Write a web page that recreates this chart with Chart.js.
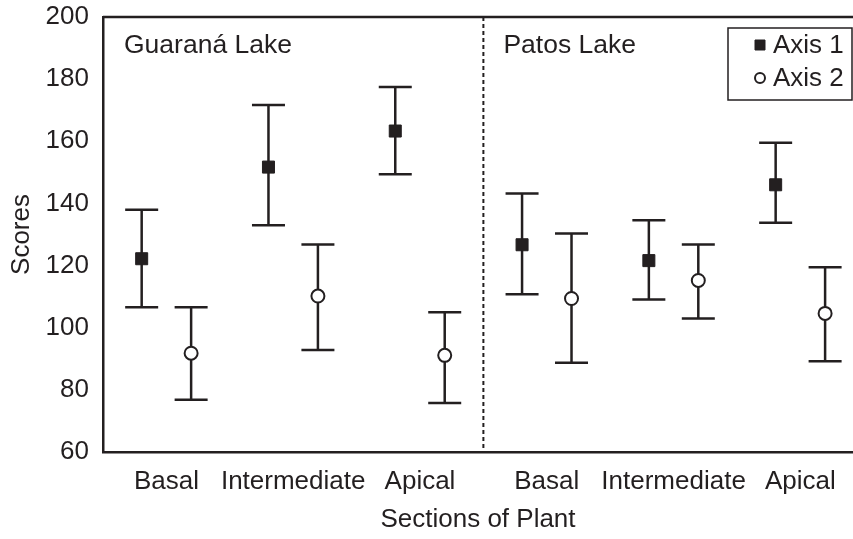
<!DOCTYPE html>
<html>
<head>
<meta charset="utf-8">
<script src="https://cdn.jsdelivr.net/npm/chart.js@4/dist/chart.umd.min.js"></script>
<style>
  html, body { margin: 0; padding: 0; background: #fff; overflow: hidden; }
  canvas { display: block; }
</style>
</head>
<body>
<canvas id="canvas-scores" width="853" height="539"></canvas>
<script>
// sections along the x axis, two lakes of three sections each
const sections = ['Basal', 'Intermediate', 'Apical', 'Basal', 'Intermediate', 'Apical'];
const lakes = ['Guaraná Lake', 'Patos Lake'];
const yTicks = [60, 80, 100, 120, 140, 160, 180, 200];

// Axis 1 scores (mean and error bar ends)
const axis1Mean = [122.2, 151.7, 163.3, 126.7, 121.6, 146.0];
const axis1Low  = [106.6, 133.0, 149.4, 110.8, 109.1, 133.8];
const axis1High = [138.0, 171.7, 177.5, 143.2, 134.6, 159.5];

// Axis 2 scores
const axis2Mean = [91.8, 110.2, 91.1, 109.4, 115.2, 104.6];
const axis2Low  = [76.8, 92.8, 75.8, 88.7, 103.0, 89.2];
const axis2High = [106.6, 126.8, 105.0, 130.3, 126.8, 119.5];

const ink = '#231f20';
const fontFam = '"Liberation Sans", Arial, sans-serif';
const shift = 0.195;

const points = (means, lows, highs, dx) =>
  means.map((m, i) => ({ x: i + dx, y: m, lo: lows[i], hi: highs[i] }));

// error bars, frame line, divider, lake names and legend
const decor = {
  id: 'decor',
  beforeDatasetsDraw(chart) {
    const { ctx, chartArea, scales } = chart;
    const xs = scales.x, ys = scales.y;
    ctx.save();
    ctx.strokeStyle = ink;
    ctx.lineWidth = 2.5;
    chart.data.datasets.forEach(ds => {
      ds.data.forEach(p => {
        const x = xs.getPixelForValue(p.x);
        const y1 = ys.getPixelForValue(p.lo);
        const y2 = ys.getPixelForValue(p.hi);
        ctx.beginPath();
        ctx.moveTo(x, y1); ctx.lineTo(x, y2);
        ctx.moveTo(x - 16.5, y1); ctx.lineTo(x + 16.5, y1);
        ctx.moveTo(x - 16.5, y2); ctx.lineTo(x + 16.5, y2);
        ctx.stroke();
      });
    });
    // top line
    ctx.beginPath();
    ctx.moveTo(chartArea.left, chartArea.top);
    ctx.lineTo(chartArea.right, chartArea.top);
    ctx.stroke();
    // dotted divider between the lakes
    const xd = xs.getPixelForValue(2.5);
    ctx.lineWidth = 2;
    ctx.setLineDash([4, 3]);
    ctx.beginPath();
    ctx.moveTo(xd, chartArea.top);
    ctx.lineTo(xd, chartArea.bottom);
    ctx.stroke();
    ctx.setLineDash([]);
    // lake names
    ctx.fillStyle = ink;
    ctx.font = '26.5px ' + fontFam;
    ctx.textBaseline = 'middle';
    ctx.textAlign = 'left';
    ctx.fillText(lakes[0], xs.getPixelForValue(-0.5) + 21, chartArea.top + 29);
    ctx.fillText(lakes[1], xd + 20, chartArea.top + 29);
    ctx.restore();
  },
  afterDraw(chart) {
    const { ctx, chartArea } = chart;
    ctx.save();
    const bx = chartArea.right - 125, by = chartArea.top + 11;
    ctx.fillStyle = '#fff';
    ctx.fillRect(bx, by, 124, 72);
    ctx.strokeStyle = ink;
    ctx.lineWidth = 1.5;
    ctx.strokeRect(bx, by, 124, 72);
    ctx.font = '26px ' + fontFam;
    ctx.textBaseline = 'middle';
    ctx.textAlign = 'left';
    chart.data.datasets.forEach((ds, i) => {
      const cy = by + 17 + i * 33;
      ctx.fillStyle = ds.pointBackgroundColor;
      ctx.strokeStyle = ink;
      ctx.lineWidth = ds.pointBorderWidth;
      ctx.beginPath();
      if (ds.pointStyle === 'rect') {
        ctx.rect(bx + 27, cy - 5, 10, 10);
      } else {
        ctx.arc(bx + 32, cy, 5, 0, Math.PI * 2);
      }
      ctx.fill();
      ctx.stroke();
      ctx.fillStyle = ink;
      ctx.fillText(ds.label, bx + 45, cy + 1);
    });
    ctx.restore();
  }
};

const ctx = document.getElementById('canvas-scores').getContext('2d');
const myChart = new Chart(ctx, {
  type: 'scatter',
  data: {
    datasets: [{
      label: 'Axis 1',
      data: points(axis1Mean, axis1Low, axis1High, -shift),
      pointStyle: 'rect',
      pointRadius: 8.5,
      pointBackgroundColor: ink,
      pointBorderColor: ink,
      pointBorderWidth: 1
    }, {
      label: 'Axis 2',
      data: points(axis2Mean, axis2Low, axis2High, shift),
      pointStyle: 'circle',
      pointRadius: 6.5,
      pointBackgroundColor: '#fff',
      pointBorderColor: ink,
      pointBorderWidth: 2
    }]
  },
  options: {
    responsive: false,
    animation: false,
    devicePixelRatio: 1,
    layout: { autoPadding: false, padding: { top: 17, right: 0, left: 0, bottom: 0 } },
    plugins: {
      legend: { display: false },
      tooltip: { enabled: false }
    },
    scales: {
      x: {
        type: 'linear',
        min: -0.5,
        max: 5.415,
        grid: { display: false, drawTicks: false },
        border: { display: true, color: ink, width: 2.5 },
        afterBuildTicks: axis => { axis.ticks = sections.map((s, i) => ({ value: i })); },
        afterFit: axis => { axis.height = 87; axis.paddingLeft = 0; axis.paddingRight = 0; },
        ticks: {
          color: ink,
          padding: 14,
          maxRotation: 0,
          autoSkip: false,
          font: { family: fontFam, size: 26 },
          callback: v => sections[v]
        },
        title: {
          display: true,
          text: 'Sections of Plant',
          color: ink,
          padding: { top: 0, bottom: 4 },
          font: { family: fontFam, size: 26 }
        }
      },
      y: {
        min: 60,
        max: 200,
        grid: { display: false, drawTicks: false },
        border: { display: true, color: ink, width: 2.5 },
        afterBuildTicks: axis => { axis.ticks = yTicks.map(v => ({ value: v })); },
        afterFit: axis => { axis.width = 103; axis.paddingTop = 0; axis.paddingBottom = 0; },
        ticks: {
          color: ink,
          padding: 14,
          font: { family: fontFam, size: 26 }
        },
        title: {
          display: true,
          text: 'Scores',
          color: ink,
          padding: { top: 6, bottom: 0 },
          font: { family: fontFam, size: 26 }
        }
      }
    }
  },
  plugins: [decor]
});
</script>
</body>
</html>
